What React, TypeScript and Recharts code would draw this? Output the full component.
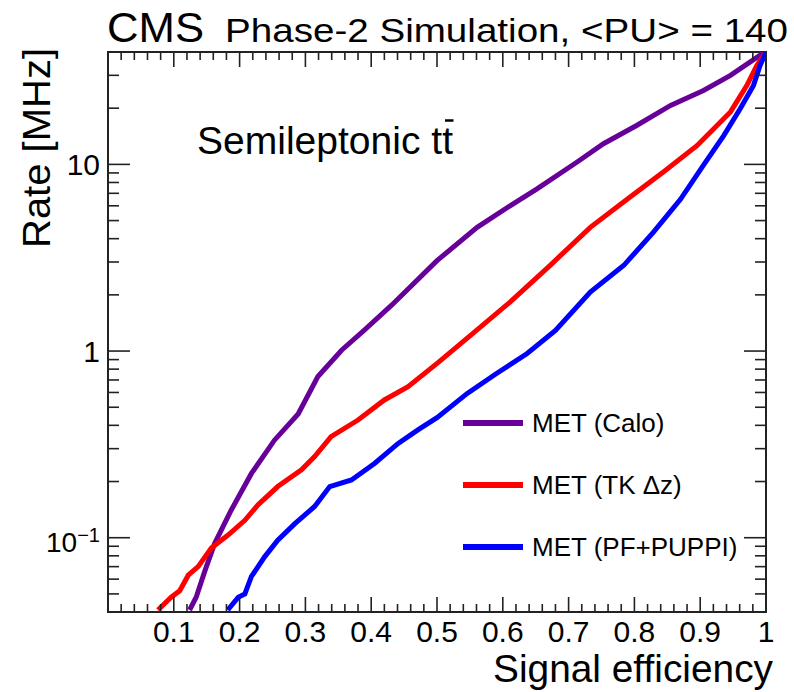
import { LineChart, Line, XAxis, YAxis, Legend, ReferenceArea } from "recharts"

// rate vs signal efficiency
const caloEff = [0.124, 0.134, 0.147, 0.162, 0.187, 0.218, 0.253, 0.289, 0.319, 0.355, 0.39, 0.431, 0.5, 0.561, 0.611, 0.652, 0.713, 0.753, 0.804, 0.855, 0.905, 0.946, 0.994, 1.0]
const caloRate = [0.041, 0.048, 0.066, 0.093, 0.14, 0.221, 0.333, 0.46, 0.73, 1.01, 1.3, 1.76, 3.05, 4.6, 6.0, 7.4, 10.3, 12.9, 16.2, 20.7, 24.9, 30.0, 39.1, 40]

const tkEff = [0.076, 0.096, 0.109, 0.122, 0.137, 0.157, 0.182, 0.208, 0.228, 0.258, 0.294, 0.314, 0.339, 0.38, 0.42, 0.456, 0.502, 0.56, 0.611, 0.672, 0.733, 0.789, 0.844, 0.895, 0.946, 0.971, 0.986, 1.0]
const tkRate = [0.041, 0.048, 0.052, 0.063, 0.07, 0.088, 0.103, 0.124, 0.15, 0.188, 0.231, 0.272, 0.348, 0.427, 0.547, 0.644, 0.87, 1.29, 1.83, 2.88, 4.6, 6.5, 9.1, 12.6, 19.1, 26.5, 33.9, 40]

const puppiEff = [0.182, 0.198, 0.208, 0.218, 0.238, 0.258, 0.284, 0.314, 0.337, 0.37, 0.405, 0.441, 0.471, 0.5, 0.546, 0.591, 0.637, 0.68, 0.733, 0.784, 0.829, 0.87, 0.905, 0.936, 0.961, 0.981, 0.991, 1.0]
const puppiRate = [0.041, 0.048, 0.05, 0.062, 0.079, 0.097, 0.119, 0.147, 0.188, 0.204, 0.25, 0.32, 0.378, 0.44, 0.593, 0.76, 0.97, 1.29, 2.07, 2.88, 4.34, 6.5, 9.9, 14.3, 19.9, 26.5, 33.9, 40]

const seriesNames = ["MET (Calo)", "MET (TK Δz)", "MET (PF+PUPPI)"]

const xMajorTicks = [0.1, 0.2, 0.3, 0.4, 0.5, 0.6, 0.7, 0.8, 0.9, 1]
const xTickLabels = ["0.1", "0.2", "0.3", "0.4", "0.5", "0.6", "0.7", "0.8", "0.9", "1"]
const yMajorTicks = [0.1, 1, 10]
const yMinorTicks = [0.05, 0.06, 0.07, 0.08, 0.09, 0.2, 0.3, 0.4, 0.5, 0.6, 0.7, 0.8, 0.9, 2, 3, 4, 5, 6, 7, 8, 9, 20, 30]

const FONT = '"Liberation Sans", Arial, Helvetica, sans-serif'
const AXIS = "#222"
const W = 794
const H = 692
const TOP = 52
const RIGHT = 28
const LEFTW = 108
const BOTTOMH = 80
const PLOT_W = W - LEFTW - RIGHT
const PLOT_H = H - TOP - BOTTOMH

const toPoints = (eff: number[], rate: number[]) => eff.map((e, i) => ({ eff: e, rate: rate[i] }))

const xMinor = Array.from({ length: 49 }, (_, i) => Math.round((i + 1) * 2) / 100).filter(
  (v) => !xMajorTicks.some((m) => Math.abs(m - v) < 1e-6)
)
const xTicks = [...xMinor, ...xMajorTicks].sort((a, b) => a - b)
const yTicks = [...yMinorTicks, ...yMajorTicks].sort((a, b) => a - b)

function XTick(props: any) {
  const { x, y, payload } = props
  const idx = xMajorTicks.findIndex((m) => Math.abs(m - payload.value) < 1e-6)
  const len = idx >= 0 ? 15 : 8
  return (
    <g>
      <line x1={x} y1={y} x2={x} y2={y - len} stroke={AXIS} strokeWidth={1.6} />
      <line x1={x} y1={y - PLOT_H} x2={x} y2={y - PLOT_H + len} stroke={AXIS} strokeWidth={1.6} />
      {idx >= 0 && (
        <text x={x} y={y + 30} textAnchor="middle" fontSize={30} fontFamily={FONT} fill="#000">
          {xTickLabels[idx]}
        </text>
      )}
    </g>
  )
}

function YTick(props: any) {
  const { x, y, payload } = props
  const v = payload.value
  const major = yMajorTicks.some((m) => Math.abs(m - v) < 1e-9)
  const len = major ? 22 : 11
  let label = null
  if (v === 10 || v === 1) {
    label = (
      <text x={x - 8} y={y + 11} textAnchor="end" fontSize={30} fontFamily={FONT} fill="#000">
        {v === 10 ? "10" : "1"}
      </text>
    )
  } else if (v === 0.1) {
    label = (
      <text x={x - 8} y={y + 14} textAnchor="end" fontSize={28} fontFamily={FONT} fill="#000">
        10
        <tspan dy={-10} fontSize={20}>
          −1
        </tspan>
      </text>
    )
  }
  return (
    <g>
      <line x1={x} y1={y} x2={x + len} y2={y} stroke={AXIS} strokeWidth={1.6} />
      <line x1={x + PLOT_W} y1={y} x2={x + PLOT_W - len} y2={y} stroke={AXIS} strokeWidth={1.6} />
      {label}
    </g>
  )
}

function LegendBox(props: any) {
  const items = [...(props.payload || [])].sort(
    (a: any, b: any) => seriesNames.indexOf(a.value) - seriesNames.indexOf(b.value)
  )
  return (
    <div style={{ fontFamily: FONT }}>
      {items.map((entry: any) => (
        <div key={entry.value} style={{ display: "flex", alignItems: "center", height: 62 }}>
          <svg width={60} height={8} style={{ display: "block" }}>
            <line x1={0} y1={4} x2={60} y2={4} stroke={entry.color} strokeWidth={6} />
          </svg>
          <span style={{ marginLeft: 9, fontSize: 26, color: "#000", whiteSpace: "nowrap" }}>{entry.value}</span>
        </div>
      ))}
    </div>
  )
}

export default function App() {
  return (
    <div style={{ position: "absolute", left: 0, top: 0, width: W, height: H, background: "#fff" }}>
      <LineChart width={W} height={H} margin={{ top: TOP, right: RIGHT, bottom: 0, left: 0 }}>
        <XAxis
          dataKey="eff"
          type="number"
          domain={[0, 1]}
          ticks={xTicks}
          interval={0}
          tick={XTick}
          tickSize={0}
          tickMargin={0}
          tickLine={false}
          axisLine={false}
          height={BOTTOMH}
          allowDataOverflow
        />
        <YAxis
          type="number"
          scale="log"
          domain={[0.04, 40]}
          ticks={yTicks}
          interval={0}
          tick={YTick}
          tickSize={0}
          tickMargin={0}
          tickLine={false}
          axisLine={false}
          width={LEFTW}
          allowDataOverflow
        />
        <ReferenceArea x1={0} x2={1} y1={0.04} y2={40} fill="none" stroke={AXIS} strokeWidth={2} ifOverflow="visible" />
        <Line data={toPoints(caloEff, caloRate)} dataKey="rate" name={seriesNames[0]} type="linear" stroke="#660099" strokeWidth={5} dot={false} isAnimationActive={false} />
        <Line data={toPoints(tkEff, tkRate)} dataKey="rate" name={seriesNames[1]} type="linear" stroke="#ff0000" strokeWidth={5} dot={false} isAnimationActive={false} />
        <Line data={toPoints(puppiEff, puppiRate)} dataKey="rate" name={seriesNames[2]} type="linear" stroke="#0000ff" strokeWidth={5} dot={false} isAnimationActive={false} />
        <Legend
          layout="vertical"
          align="center"
          verticalAlign="middle"
          content={LegendBox}
          wrapperStyle={{ left: 463, top: 392, width: 300 }}
        />
      </LineChart>
      <svg width={W} height={H} style={{ position: "absolute", left: 0, top: 0, pointerEvents: "none" }} fontFamily={FONT}>
        <text x={107} y={42} fontSize={42} textLength={97} lengthAdjust="spacingAndGlyphs">CMS</text>
        <text x={225} y={42} fontSize={33} textLength={563} lengthAdjust="spacingAndGlyphs">Phase-2 Simulation, &lt;PU&gt; = 140</text>
        <text transform="translate(50,248) rotate(-90)" fontSize={39} textLength={200} lengthAdjust="spacingAndGlyphs">Rate [MHz]</text>
        <text x={493} y={682} fontSize={39} textLength={280} lengthAdjust="spacingAndGlyphs">Signal efficiency</text>
        <text x={197} y={154} fontSize={39} textLength={256} lengthAdjust="spacingAndGlyphs">Semileptonic tt</text>
        <line x1={445} y1={120.5} x2={453.5} y2={120.5} stroke="#000" strokeWidth={2.5} />
      </svg>
    </div>
  )
}
